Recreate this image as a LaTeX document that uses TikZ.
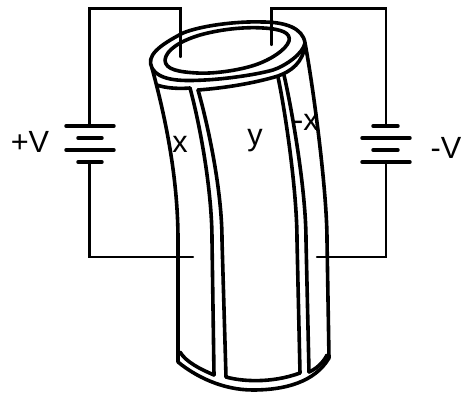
\documentclass[tikz,border=0pt]{standalone}
\usepackage{fontspec}
\setmainfont{Liberation Sans}
\tikzset{
  wire/.style={line width=1.7pt,line cap=round,line join=miter},
  plate/.style={line width=2.6pt,line cap=round},
  tube/.style={line width=2.7pt,line cap=round,line join=round},
  lab/.style={font=\fontsize{23}{26}\selectfont,inner sep=0pt},
}
\begin{document}
\begin{tikzpicture}[x=0.75pt,y=-0.75pt]
\useasboundingbox (0,0) rectangle (465,393);
\coordinate (a1) at (180.5,57);
\coordinate (a2) at (180.5,8.5);
\coordinate (a3) at (89.5,8.5);
\coordinate (a4) at (89.5,126);
\coordinate (b1) at (89.5,162);
\coordinate (b2) at (89.5,257);
\coordinate (b3) at (193,257);
\coordinate (c1) at (271.5,45);
\coordinate (c2) at (271.5,8.5);
\coordinate (c3) at (386,8.5);
\coordinate (c4) at (386,126);
\coordinate (d1) at (386,162);
\coordinate (d2) at (386,257);
\coordinate (d3) at (317,257);
\draw[wire] (a1)--(a2)--(a3)--(a4);
\draw[wire] (b1)--(b2)--(b3);
\draw[wire] (c1)--(c2)--(c3)--(c4);
\draw[wire] (d1)--(d2)--(d3);
% batteries
\draw[plate] (66,126)--(114,126) (78,138)--(102,138) (66,150)--(114,150) (78,162)--(102,162);
\draw[plate] (373,126)--(398,126) (362,138)--(410,138) (373,150)--(398,150) (362,162)--(410,162);
% outer rim, top edge and front edge
\draw[tube] (152,68) .. controls (146,56) and (158,46) .. (183,33)
  .. controls (200,26) and (235,21) .. (263,22)
  .. controls (285,22) and (303,28) .. (305,43)
  .. controls (303,54) and (285,66) .. (273,70)
  .. controls (255,75) and (225,79) .. (205,80)
  .. controls (185,81) and (160,82) .. (152,68);
% inner rim
\draw[tube] (165,60) .. controls (166,50) and (180,41) .. (200,35)
  .. controls (225,28) and (250,27) .. (263,28)
  .. controls (282,29) and (291,33) .. (289,41)
  .. controls (286,50) and (270,60) .. (255,65)
  .. controls (240,70) and (215,74) .. (197,73)
  .. controls (180,72) and (165,70) .. (165,60);
% collar lower edge
\draw[tube] (157,85) .. controls (165,88) and (178,89) .. (190,88);
\draw[tube] (198,90) .. controls (225,88) and (255,83) .. (278,76)
  .. controls (292,71) and (303,62) .. (305,45);
% body edges
\draw[tube] (152,68) .. controls (162,105) and (178,170) .. (178,240) -- (178,362);
\draw[tube] (190,88) .. controls (200,125) and (212,190) .. (212,240) -- (214,375);
\draw[tube] (198,90) .. controls (208,125) and (222,190) .. (222,240) -- (226,377);
\draw[tube] (278,77) .. controls (285,110) and (297,190) .. (297,240) -- (300,373);
\draw[tube] (284,75) .. controls (292,110) and (306,190) .. (306,240) -- (309,372);
\draw[tube] (305,43) .. controls (313,85) and (327,190) .. (327,240) -- (329,358);
% bottom
\draw[tube] (178,362) .. controls (195,376) and (222,390) .. (253,390)
  .. controls (285,390) and (315,382) .. (329,358);
\draw[tube] (180,352) .. controls (186,362) and (200,369) .. (214,375);
\draw[tube] (226,377) .. controls (240,381) and (270,384) .. (300,373);
\draw[tube] (309,372) .. controls (316,369) and (323,363) .. (327,355);
% labels
\node[lab] (lp) at (30,142) {+V};
\node[lab] (lm) at (446,148) {-V};
\node[lab] (lx) at (180,144) {x};
\node[lab] (ly) at (255,141) {y};
\node[lab,anchor=east] (lnx) at (319,122) {-x};
\end{tikzpicture}
\end{document}
